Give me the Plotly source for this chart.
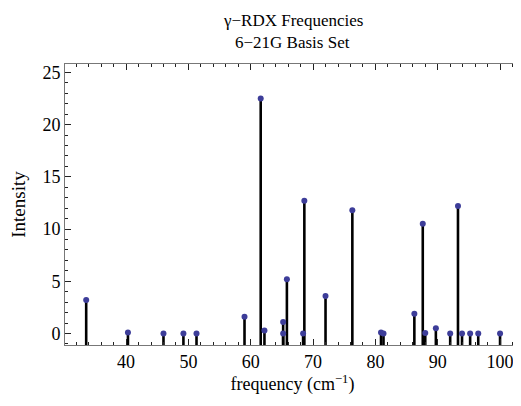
import plotly.graph_objects as go

freq = [33.6, 40.3, 46.0, 49.2, 51.3, 59.0, 61.6, 62.2, 65.2, 65.2, 65.8, 68.4, 68.6,
        72.0, 76.3, 80.9, 81.3, 86.25, 87.6, 88.0, 89.7, 92.0, 93.25, 93.9, 95.2, 96.5, 100.0]
intensity = [3.2, 0.1, 0.0, 0.0, 0.0, 1.6, 22.5, 0.3, 1.1, 0.0, 5.2, 0.0, 12.7,
             3.6, 11.8, 0.1, 0.0, 1.9, 10.5, 0.05, 0.5, 0.0, 12.2, 0.0, 0.0, 0.0, 0.0]

x_range = [30.2, 103.2]
y_range = [-1.1, 25.8]
ymin = y_range[0]

title_lines = ["γ\u2212RDX Frequencies", "6\u221221G Basis Set"]

FONT = "Liberation Serif"

fig = go.Figure()
fig.add_trace(go.Scatter(
    x=freq, y=intensity, mode="markers",
    marker=dict(color="rgb(61,61,153)", size=6),
    error_y=dict(type="data", symmetric=False,
                 array=[0] * len(intensity),
                 arrayminus=[v - ymin for v in intensity],
                 color="black", thickness=2.6, width=0),
    showlegend=False,
))

axis_common = dict(
    showgrid=False, zeroline=False, showline=True, linecolor="#777777", linewidth=1,
    mirror="allticks", ticks="inside", ticklen=6, tickcolor="#222222", tickwidth=1,
    tickfont=dict(family=FONT, size=18, color="black"), automargin=False,
)

fig.update_xaxes(range=x_range, tick0=0, dtick=10,
                 minor=dict(dtick=2, ticks="inside", ticklen=3, tickcolor="#222222"),
                 title=dict(text="frequency (cm<sup>\u22121</sup>)", font=dict(family=FONT, size=18, color="black"), standoff=6),
                 **axis_common)
fig.update_yaxes(range=y_range, tick0=0, dtick=5,
                 minor=dict(dtick=1, ticks="inside", ticklen=3, tickcolor="#222222"),
                 title=dict(text="Intensity", font=dict(family=FONT, size=19, color="black"), standoff=12),
                 **axis_common)

# page body has an 8px default margin, so the figure is sized/offset to compensate
W, H = 513, 398
M = dict(l=57, r=1, t=56, b=61)
fig.update_layout(
    width=W, height=H,
    margin=M,
    plot_bgcolor="white", paper_bgcolor="white",
    annotations=[
        dict(text=t, x=0.5, xref="paper", yref="paper", showarrow=False, yanchor="middle",
             font=dict(family=FONT, size=17, color="black"))
        for t in title_lines
    ],
)
plot_h = H - M["t"] - M["b"]
for a, row in zip(fig.layout.annotations, [12, 35]):
    a.y = 1 + (M["t"] - row) / plot_h

fig.write_html("out.html")
